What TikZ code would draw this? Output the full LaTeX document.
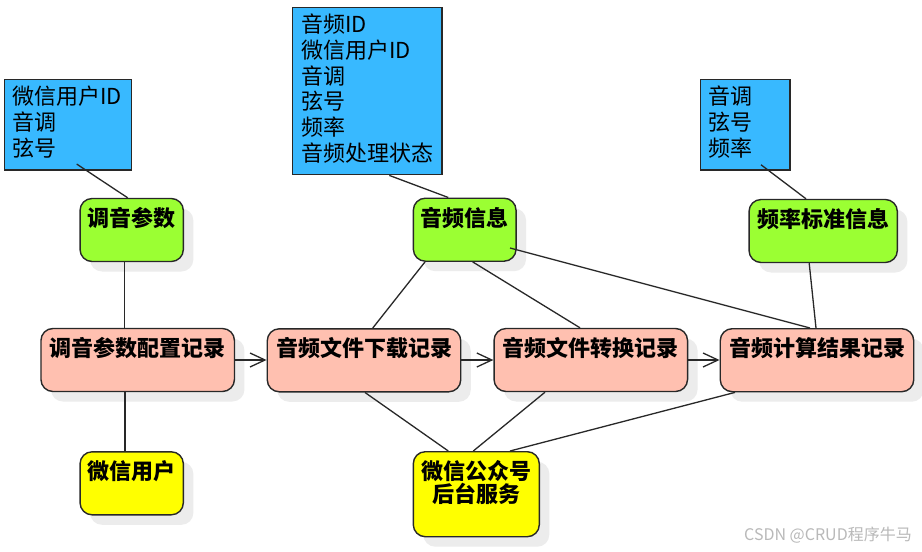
\documentclass[tikz,border=0pt]{standalone}
\usepackage{fontspec}
\setmainfont{Noto Sans CJK SC}
\usetikzlibrary{arrows.meta,shadows,calc}
\definecolor{infoblue}{RGB}{56,185,255}
\definecolor{entgreen}{RGB}{155,255,51}
\definecolor{recsalmon}{RGB}{255,192,176}
\definecolor{actyellow}{RGB}{255,255,0}
\definecolor{edgegray}{RGB}{40,40,40}
\definecolor{shadowgray}{RGB}{236,236,236}
\definecolor{markgray}{RGB}{185,185,185}
\begin{document}
\begin{tikzpicture}[x=1pt,y=-1pt,
  attrbox/.style={draw=edgegray, line width=1.4pt, fill=infoblue, inner sep=0pt},
  attrtext/.style={anchor=north west, align=left, inner sep=0pt, font=\fontsize{22pt}{25.7pt}\selectfont},
  entbox/.style={draw=edgegray, line width=1.4pt, rounded corners=12pt, inner sep=0pt,
    minimum height=63pt,
    drop shadow={shadow xshift=10pt, shadow yshift=-10pt, fill=shadowgray, opacity=1, draw=none}},
  greenbox/.style={entbox, fill=entgreen},
  recbox/.style={entbox, fill=recsalmon, minimum width=193.5pt},
  yellowbox/.style={entbox, fill=actyellow},
  enttext/.style={anchor=north, align=center, inner sep=0pt, font=\bfseries\fontsize{22pt}{23.3pt}\selectfont},
  link/.style={draw=edgegray, line width=1.3pt},
  flow/.style={link, -{Straight Barb[length=15pt,width=14pt]}}
]
\useasboundingbox[fill=white] (0,0) rectangle (922,552);

% attribute boxes
\node[attrbox, minimum width=127.4pt, minimum height=90.7pt] (b1) at (68,124.7) {};
\node[attrbox, minimum width=149.3pt, minimum height=167.4pt] (b2) at (367.4,91) {};
\node[attrbox, minimum width=89.3pt, minimum height=90.7pt] (b3) at (745.4,124.7) {};

% entity boxes
\node[greenbox, minimum width=103.3pt] (g1) at (131.7,230) {};
\node[greenbox, minimum width=102.7pt] (g2) at (464.7,229.7) {};
\node[greenbox, minimum width=148.3pt] (g3) at (823.2,231) {};
\node[recbox] (p1) at (137.7,360) {};
\node[recbox] (p2) at (364,360.3) {};
\node[recbox] (p3) at (590.8,360) {};
\node[recbox] (p4) at (817,360.2) {};
\node[yellowbox, minimum width=103.3pt] (y1) at (131.7,483.3) {};
\node[yellowbox, minimum width=126pt, minimum height=85pt] (y2) at (476.3,494.2) {};

% connectors
\draw[link] ($(b1.south)+(8.7,-6.7)$) -- ($(g1.north)+(-4,0)$);
\draw[link] ($(g1.south)+(-7.4,0)$) -- ($(p1.north)+(-13.4,0)$);
\draw[link] ($(p1.south)+(-12.7,0)$) -- ($(y1.north)+(-6.7,0)$);
\draw[flow] (p1.east) -- (p2.west |- p1.east);
\draw[flow] (p2.east |- p1.east) -- (p3.west);
\draw[flow] (p3.east) -- (p4.west |- p3.east);
\draw[link] ($(b2.south)+(21.9,0)$) -- ($(g2.north)+(-16.4,0)$);
\draw[link] ($(g2.south)+(-39.7,0)$) -- ($(p2.north)+(8.7,0)$);
\draw[link] ($(g2.south)+(8,0)$) -- ($(p3.north)+(-10.8,0)$);
\draw[link] ($(g2.east)+(-6.7,18.3)$) -- ($(p4.north)+(-7,0)$);
\draw[link] ($(b3.south)+(15.6,-6)$) -- ($(g3.north)+(-17.2,0)$);
\draw[link] ($(g3.south)+(-14,0)$) -- ($(p4.north)+(-1,0)$);
\draw[link] ($(p2.south)+(1,0)$) -- ($(y2.north)+(-28,0)$);
\draw[link] ($(p3.south)+(-45.8,0)$) -- ($(y2.north)+(-3,0)$);
\draw[link] ($(p4.south)+(-82,0)$) -- ($(y2.north)+(33.7,0)$);

% texts
\node[attrtext] (b1t) at ($(b1.north west)+(8.4,6)$) {\rule{0pt}{20pt}微信用户ID\\音调\\弦号};
\node[attrtext] (b2t) at ($(b2.north west)+(9,6)$) {\rule{0pt}{20pt}音频ID\\微信用户ID\\音调\\弦号\\频率\\音频处理状态};
\node[attrtext] (b3t) at ($(b3.north west)+(8.4,6)$) {\rule{0pt}{20pt}音调\\弦号\\频率};

\node[enttext] (g1t) at ($(g1.north)+(0,8.4)$) {\rule{0pt}{20pt}调音参数};
\node[enttext] (g2t) at ($(g2.north)+(0,8.4)$) {\rule{0pt}{20pt}音频信息};
\node[enttext] (g3t) at ($(g3.north)+(0,8.4)$) {\rule{0pt}{20pt}频率标准信息};
\node[enttext] (p1t) at ($(p1.north)+(0,8.4)$) {\rule{0pt}{20pt}调音参数配置记录};
\node[enttext] (p2t) at ($(p2.north)+(0,8.4)$) {\rule{0pt}{20pt}音频文件下载记录};
\node[enttext] (p3t) at ($(p3.north)+(0,8.4)$) {\rule{0pt}{20pt}音频文件转换记录};
\node[enttext] (p4t) at ($(p4.north)+(0,8.4)$) {\rule{0pt}{20pt}音频计算结果记录};
\node[enttext] (y1t) at ($(y1.north)+(0,8.4)$) {\rule{0pt}{20pt}微信用户};
\node[enttext] (y2t) at ($(y2.north)+(0,8.4)$) {\rule{0pt}{20pt}微信公众号\\后台服务};

% watermark
\node[inner sep=0pt, text=markgray, font=\fontsize{16pt}{18pt}\selectfont] (wm) at (828,535) {CSDN @CRUD程序牛马};
\end{tikzpicture}
\end{document}
